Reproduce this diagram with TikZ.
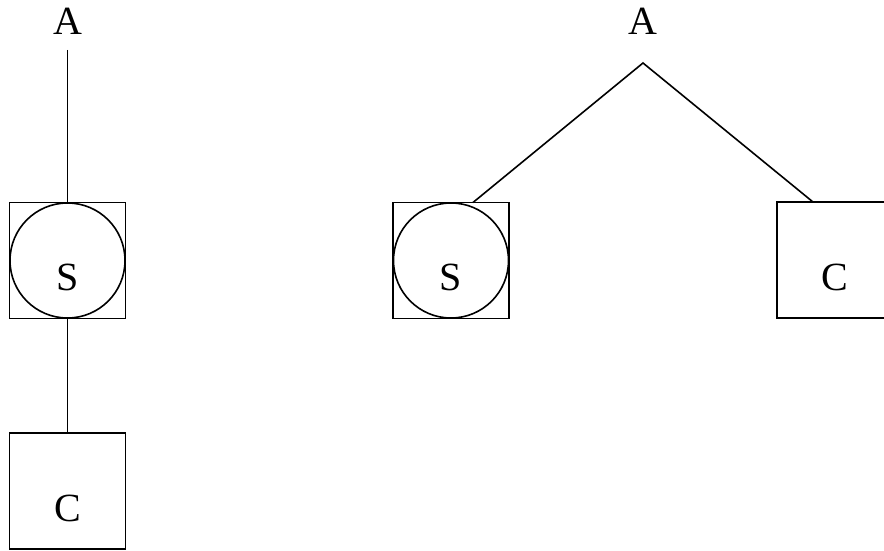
\documentclass[tikz,border=0pt]{standalone}
\usepackage{fontspec}
\setmainfont{Liberation Serif}
\begin{document}
\begin{tikzpicture}[x=1pt,y=-1pt,
  box/.style={draw,line width=1.6pt,minimum size=116pt,inner sep=0pt,outer sep=0pt},
  ring/.style={draw,circle,line width=1.6pt,minimum size=115pt,inner sep=0pt,outer sep=0pt},
  lbl/.style={inner sep=0pt,outer sep=0pt,anchor=base,font=\fontsize{40}{48}\selectfont},
  link/.style={line width=1.6pt}]
\useasboundingbox (0,0) rectangle (884,551);

% left: vertical chain A - S - C
\node[lbl] (A1) at (67.5,35) {A};
\node[box] (S1) at (67.5,260.5) {};
\node[ring] (R1) at (67.5,260.5) {};
\node[lbl] (S1t) at (67.5,290) {S};
\node[box] (C1) at (67.5,491) {};
\node[lbl] (C1t) at (67.5,521) {C};
\draw[link,shorten <=15pt] (A1.south) -- (S1.north);
\draw[link] (S1.south) -- (C1.north);

% right: A branching to S and C
\node[lbl] (A2) at (643,35) {A};
\coordinate (apex) at (643,63);
\node[box] (S2) at (451,260.5) {};
\node[ring] (R2) at (451,260.5) {};
\node[lbl] (S2t) at (451,290) {S};
\node[box] (C2) at (835,260) {};
\node[lbl] (C2t) at (835,290) {C};
\draw[link] ([xshift=22pt]S2.north) -- (apex) -- ([xshift=-22pt]C2.north);
\end{tikzpicture}
\end{document}
